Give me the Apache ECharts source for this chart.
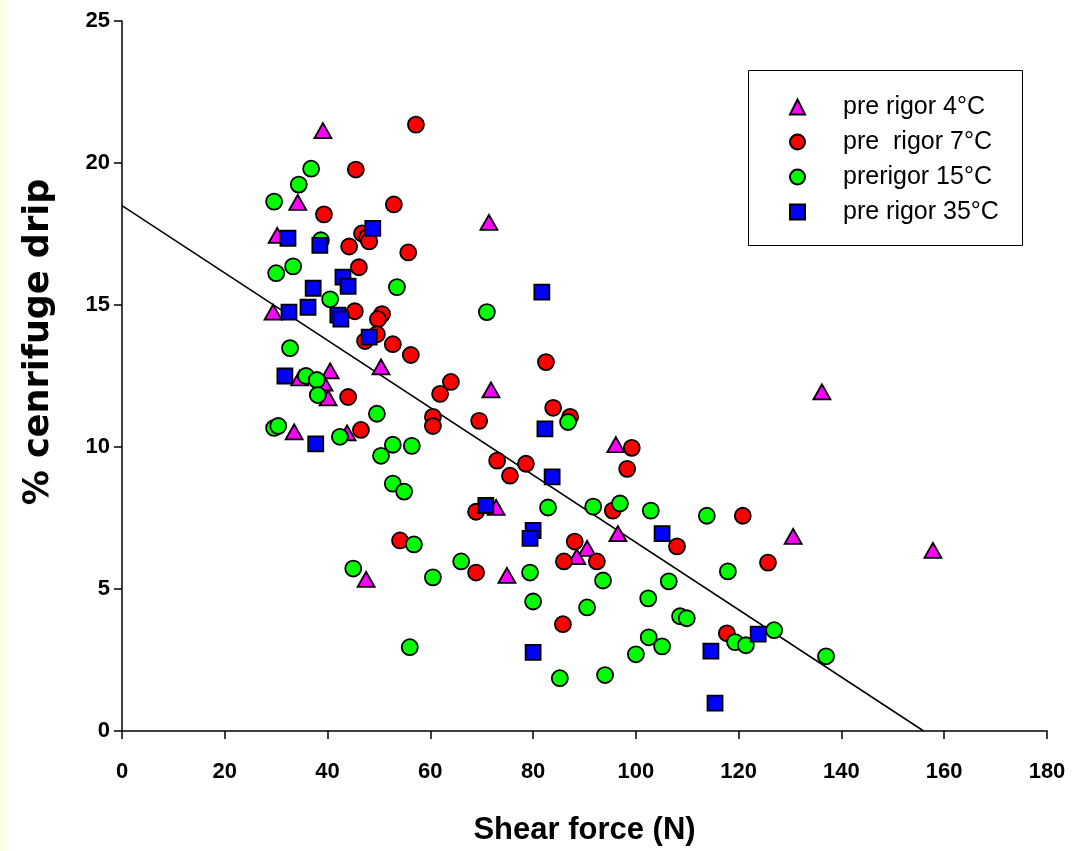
<!DOCTYPE html>
<html>
<head>
<meta charset="utf-8">
<script src="https://cdn.jsdelivr.net/npm/echarts@6/dist/echarts.min.js"></script>
<style>
  html, body { margin: 0; padding: 0; background: #ffffff; }
  #strip { position: absolute; left: 0; top: 0; width: 7px; height: 851px; background: #FFFFE4; }
  #chart { position: absolute; left: 0; top: 0; width: 1077px; height: 851px; }
</style>
</head>
<body>
<div id="strip"></div>
<div id="chart"></div>
<script>
// Series names (legend)
const seriesNames = ['pre rigor 4°C', 'pre  rigor 7°C', 'prerigor 15°C', 'pre rigor 35°C'];

// pre rigor 4°C : [shear force, % drip]
const rigor4X = [39.1, 34.2, 30.2, 29.4, 40.5, 34.6, 39.3, 40.1, 50.4, 33.5, 43.8, 47.5, 71.4, 71.8, 72.8, 74.9, 96.1, 96.5, 90.5, 88.5, 136.2, 130.6, 157.8];
const rigor4Y = [21.14, 18.61, 17.45, 14.75, 12.68, 12.43, 12.25, 11.73, 12.82, 10.53, 10.50, 5.34, 17.91, 12.01, 7.87, 5.48, 10.08, 6.95, 6.43, 6.14, 11.94, 6.85, 6.36];

// pre rigor 7°C
const rigor7X = [57.2, 45.5, 52.9, 39.3, 46.7, 47.7, 48.1, 44.2, 55.7, 46.1, 45.3, 50.6, 49.8, 49.6, 47.3, 52.7, 56.2, 44.0, 46.5, 60.5, 60.5, 61.9, 64.0, 69.5, 82.5, 83.9, 87.2, 73.0, 78.6, 75.5, 68.9, 54.1, 88.1, 86.0, 92.4, 68.9, 85.8, 99.2, 98.3, 95.5, 108.0, 120.8, 125.7, 117.7];
const rigor7Y = [21.35, 19.77, 18.54, 18.19, 17.52, 17.38, 17.24, 17.06, 16.85, 16.33, 14.78, 14.68, 14.50, 13.97, 13.73, 13.62, 13.24, 11.76, 10.60, 11.06, 10.74, 11.87, 12.29, 10.92, 12.99, 11.38, 11.06, 9.52, 9.41, 8.99, 7.72, 6.71, 6.67, 5.97, 5.97, 5.58, 3.76, 9.97, 9.23, 7.76, 6.50, 7.58, 5.93, 3.44];

// prerigor 15°C
const rigor15X = [36.8, 34.4, 29.6, 38.7, 30.0, 33.3, 53.5, 40.5, 71.0, 32.7, 35.8, 37.9, 38.1, 49.6, 29.6, 30.4, 42.4, 52.7, 56.4, 50.4, 52.7, 54.9, 56.8, 45.0, 60.5, 56.0, 66.0, 82.9, 86.8, 79.4, 80.0, 85.2, 94.0, 90.5, 93.6, 91.7, 96.9, 102.9, 106.4, 102.4, 108.6, 109.9, 102.5, 105.1, 100.0, 113.8, 117.9, 119.3, 121.4, 126.9, 137.0];
const rigor15Y = [19.80, 19.24, 18.64, 17.28, 16.12, 16.36, 15.63, 15.20, 14.75, 13.48, 12.50, 12.36, 11.83, 11.17, 10.67, 10.74, 10.36, 10.08, 10.04, 9.69, 8.71, 8.43, 6.57, 5.72, 5.41, 2.95, 5.97, 7.87, 10.88, 5.58, 4.56, 1.86, 1.97, 4.35, 5.30, 7.90, 8.01, 7.76, 5.27, 4.67, 4.04, 3.97, 3.30, 2.98, 2.70, 7.58, 5.62, 3.13, 3.02, 3.55, 2.63];

// pre rigor 35°C
const rigor35X = [32.3, 38.5, 48.8, 43.0, 44.0, 37.2, 36.2, 32.5, 42.0, 42.6, 48.1, 31.7, 37.7, 81.7, 82.3, 83.7, 70.8, 80.0, 79.4, 80.0, 105.1, 114.6, 123.8, 115.4];
const rigor35Y = [17.35, 17.10, 17.70, 15.98, 15.66, 15.59, 14.92, 14.75, 14.64, 14.50, 13.87, 12.50, 10.11, 15.45, 10.64, 8.95, 7.94, 7.06, 6.78, 2.77, 6.95, 2.81, 3.41, 0.98];

// regression line end points
const fitX = [0, 156];
const fitY = [18.5, 0];

// axis ticks
const xTicks = [0, 20, 40, 60, 80, 100, 120, 140, 160, 180];
const yTicks = [0, 5, 10, 15, 20, 25];

const pair = (xs, ys) => xs.map((x, i) => [x, ys[i]]);
const FONT = "'Liberation Sans', Arial, sans-serif";
const WIDE = "'DejaVu Sans', 'Liberation Sans', Arial, sans-serif";

const chart = echarts.init(document.getElementById('chart'), null, { renderer: 'canvas' });

const markerStyle = (color) => ({ color: color, borderColor: '#000000', borderWidth: 1.8, opacity: 1 });

const option = {
  animation: false,
  backgroundColor: 'transparent',
  grid: { left: 122, right: 30, top: 21, bottom: 119, containLabel: false },
  xAxis: {
    type: 'value',
    min: xTicks[0], max: xTicks[xTicks.length - 1], interval: 20,
    name: 'Shear force (N)',
    nameLocation: 'middle',
    nameGap: 84,
    nameTextStyle: { fontFamily: FONT, fontWeight: 'bold', fontSize: 31, color: '#000' },
    axisLine: { show: true, onZero: false, lineStyle: { color: '#000', width: 1.5 } },
    axisTick: { show: true, inside: false, length: 8, lineStyle: { color: '#000', width: 1.5 } },
    axisLabel: { margin: 30, fontFamily: FONT, fontWeight: 'bold', fontSize: 22, color: '#000' },
    splitLine: { show: false }
  },
  yAxis: {
    type: 'value',
    min: yTicks[0], max: yTicks[yTicks.length - 1], interval: 5,
    name: '% cenrifuge drip',
    nameLocation: 'middle',
    nameGap: 66,
    nameTextStyle: { fontFamily: WIDE, fontWeight: 'bold', fontSize: 35, color: '#000', padding: [0, 0, 0, 68] },
    axisLine: { show: true, onZero: false, lineStyle: { color: '#000', width: 1.5 } },
    axisTick: { show: true, inside: false, length: 8, lineStyle: { color: '#000', width: 1.5 } },
    axisLabel: { margin: 12, fontFamily: FONT, fontWeight: 'bold', fontSize: 22, color: '#000' },
    splitLine: { show: false }
  },
  legend: {
    orient: 'vertical',
    left: 748, top: 70,
    padding: [21, 0, 0, 41],
    itemWidth: 15, itemHeight: 15,
    itemGap: 3,
    data: seriesNames,
    textStyle: { fontFamily: FONT, fontSize: 25, color: '#000', lineHeight: 30, padding: [2, 0, 0, 33] }
  },
  graphic: [{
    type: 'rect',
    shape: { x: 748.5, y: 70.5, width: 274, height: 175 },
    style: { fill: 'none', stroke: '#000', lineWidth: 1 },
    z: 10
  }],
  series: [
    {
      name: seriesNames[0], type: 'scatter', symbol: 'triangle', symbolSize: [17, 15],
      data: pair(rigor4X, rigor4Y), itemStyle: markerStyle('#FF00FF'), z: 2
    },
    {
      name: seriesNames[1], type: 'scatter', symbol: 'circle', symbolSize: 16,
      data: pair(rigor7X, rigor7Y), itemStyle: markerStyle('#FF0000'), z: 3
    },
    {
      name: seriesNames[2], type: 'scatter', symbol: 'circle', symbolSize: 16,
      data: pair(rigor15X, rigor15Y), itemStyle: markerStyle('#00FF00'), z: 4
    },
    {
      name: seriesNames[3], type: 'scatter', symbol: 'rect', symbolSize: 15,
      data: pair(rigor35X, rigor35Y), itemStyle: markerStyle('#0000FF'), z: 5
    },
    {
      name: 'fit', type: 'line', data: pair(fitX, fitY), symbol: 'none',
      lineStyle: { color: '#000', width: 1.5 }, z: 1, silent: true
    }
  ]
};
chart.setOption(option);
</script>
</body>
</html>
